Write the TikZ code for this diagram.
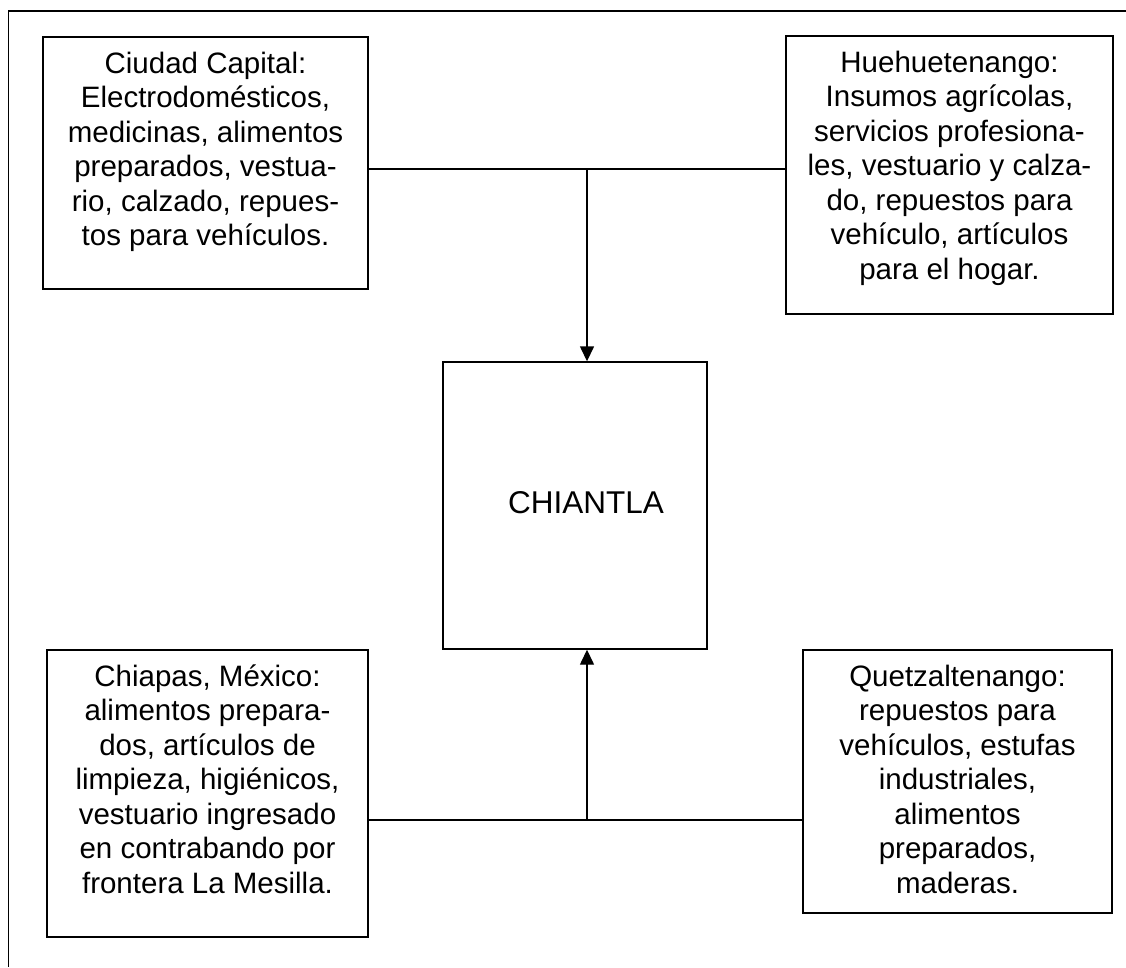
\documentclass[tikz,border=0pt]{standalone}
\usepackage{fontspec}
\setmainfont{Liberation Sans}
\usetikzlibrary{arrows.meta}
\newcommand\boxfont{\fontsize{29.5}{34.5}\selectfont}
\begin{document}
\begin{tikzpicture}[x=1pt,y=-1pt,
  framebox/.style={draw, line width=1.4pt, inner sep=0pt, rectangle},
  txt/.style={align=center, inner sep=0pt, font=\boxfont, anchor=north},
  conn/.style={line width=1.4pt},
  arr/.style={line width=1.4pt, -{Triangle[width=14pt,length=15pt]}}]
\useasboundingbox (0,0) rectangle (1126,967);
% outer frame (top and left only)
\draw[line width=1.4pt] (1126,11) -- (8.5,11) -- (8.5,967);
% boxes
\node[framebox, minimum width=325pt, minimum height=252pt] (cc) at (205.5,163) {};
\node[framebox, minimum width=327pt, minimum height=278pt] (hh) at (949.5,175) {};
\node[framebox, minimum width=264pt, minimum height=287pt] (ch) at (575,505.5) {};
\node[framebox, minimum width=321pt, minimum height=287pt] (cp) at (207.5,793.5) {};
\node[framebox, minimum width=309pt, minimum height=263pt] (qz) at (957.5,781.5) {};
% texts
\node[txt] (cct) at ([yshift=-11pt]cc.north) {\vphantom{É}Ciudad Capital:\\Electrodomésticos,\\medicinas, alimentos\\preparados, vestua-\\rio, calzado, repues-\\tos para vehículos.};
\node[txt] (hht) at ([yshift=-11pt]hh.north) {\vphantom{É}Huehuetenango:\\Insumos agrícolas,\\servicios profesiona-\\les, vestuario y calza-\\do, repuestos para\\vehículo, artículos\\para el hogar.};
\node[txt] (cpt) at ([yshift=-11pt]cp.north) {\vphantom{É}Chiapas, México:\\alimentos prepara-\\dos, artículos de\\limpieza, higiénicos,\\vestuario ingresado\\en contrabando por\\frontera La Mesilla.};
\node[txt] (qzt) at ([yshift=-11pt]qz.north) {\vphantom{É}Quetzaltenango:\\repuestos para\\vehículos, estufas\\industriales,\\alimentos\\preparados,\\maderas.};
\node[inner sep=0pt, font=\fontsize{31.5}{36}\selectfont, anchor=base] (cht) at (586,513) {CHIANTLA};
% connectors
\coordinate (j1) at (587,169);
\coordinate (j2) at (587,820);
\draw[conn] (cc.east |- j1) -- (hh.west |- j1);
\draw[arr] (j1) -- (ch.north -| j1);
\draw[conn] (cp.east |- j2) -- (qz.west |- j2);
\draw[arr] (j2) -- (ch.south -| j2);
\end{tikzpicture}
\end{document}
